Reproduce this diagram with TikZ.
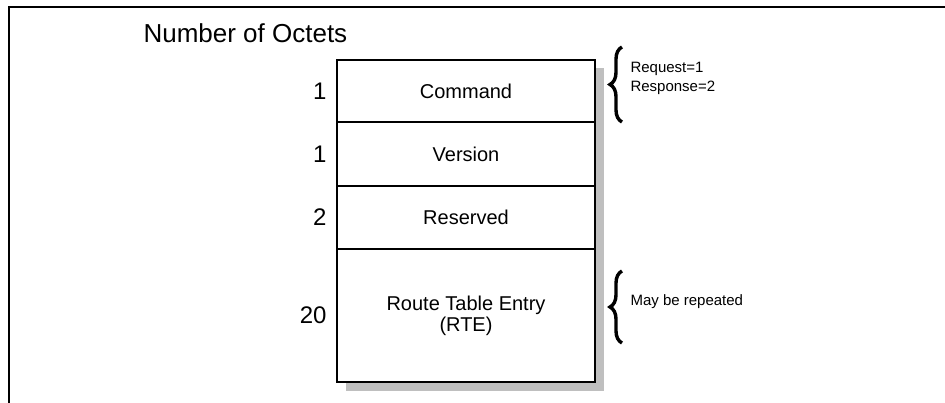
\documentclass[tikz,border=0pt]{standalone}
\usepackage{fontspec}
\setmainfont{Liberation Sans}
\usetikzlibrary{positioning,calc,backgrounds,decorations.pathreplacing}
\begin{document}
\begin{tikzpicture}[
    x=1pt,y=-1pt,
    field/.style={
        draw,
        fill=white,
        line width=1.1pt,
        minimum width=258pt,
        inner sep=0pt,
        outer sep=0pt,
        align=center,
        font=\fontsize{20}{21}\selectfont
    },
    count/.style={font=\fontsize{24}{28}\selectfont},
    note/.style={anchor=west,align=left,font=\fontsize{15}{19}\selectfont},
    curly/.style={decorate,decoration={brace,amplitude=12pt},line width=3.4pt},
    frame/.style={line width=1.3pt}
]

\useasboundingbox (0,0) rectangle (945,403);

\coordinate (fa) at (9,403);
\coordinate (fb) at (9,7);
\coordinate (fc) at (945,7);
\draw[frame] (fa)--(fb)--(fc);

\node[anchor=west,font=\fontsize{26}{30}\selectfont] (title) at (140,33)
    {Number of Octets};

\node[field,minimum height=62pt] (cmd) at (466,91) {Command};
\node[field,minimum height=64pt,below=0pt of cmd] (ver) {Version};
\node[field,minimum height=63pt,below=0pt of ver] (rsv) {Reserved};
\node[field,minimum height=133pt,below=0pt of rsv] (rte)
    {Route Table Entry\\(RTE)};

\begin{scope}[on background layer]
\fill[black!25] ($(cmd.north west)+(9,8)$) rectangle ($(rte.south east)+(9,9)$);
\end{scope}

\node[count,left=7pt of cmd] (ncmd) {1};
\node[count,left=7pt of ver] (nver) {1};
\node[count,left=7pt of rsv] (nrsv) {2};
\node[count,left=7pt of rte] (nrte) {20};

\coordinate (b1s) at (622,122);
\coordinate (b1e) at (622,47);
\draw[curly] (b1s)--(b1e);
\node[note] (req) at (627,78) {Request=1\\Response=2};

\coordinate (b2s) at (622,343);
\coordinate (b2e) at (622,271);
\draw[curly] (b2s)--(b2e);
\node[note] (rep) at (627,302) {May be repeated};

\end{tikzpicture}
\end{document}
